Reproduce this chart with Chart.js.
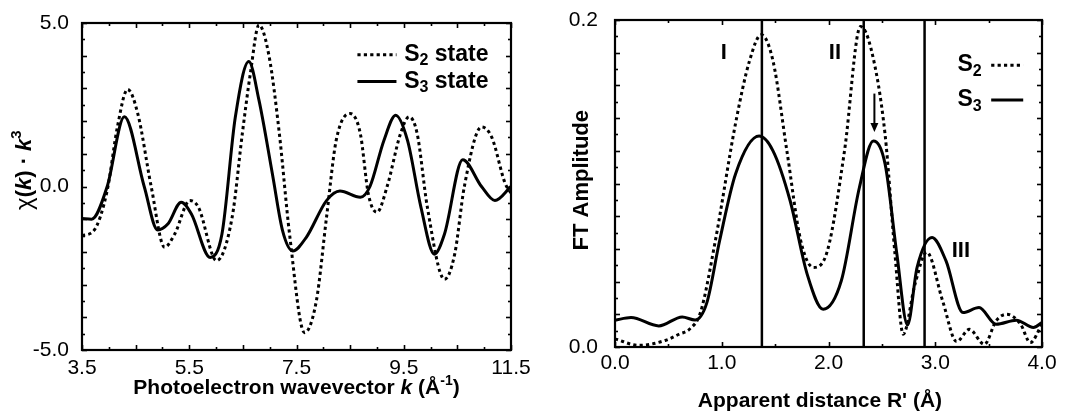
<!DOCTYPE html>
<html><head><meta charset="utf-8">
<script src="https://cdn.jsdelivr.net/npm/chart.js@4/dist/chart.umd.min.js"></script>
<style>
html,body{margin:0;padding:0;background:#fff;width:1065px;height:411px;overflow:hidden}
#wrapL{position:absolute;left:0;top:0;width:530px;height:411px}
#wrapR{position:absolute;left:530px;top:0;width:535px;height:411px}
</style></head><body>
<div id="wrapL"><canvas id="cL" width="530" height="411"></canvas></div>
<div id="wrapR"><canvas id="cR" width="535" height="411"></canvas></div>
<script>
// ===== DATA (left panel: EXAFS chi(k)*k^3) =====
const kS2 = [3.5, 3.72, 3.97, 4.16, 4.35, 4.54, 4.79, 5.04, 5.23, 5.51, 5.67, 6.01, 6.30, 6.49, 6.64, 6.80, 6.99, 7.18, 7.37, 7.65, 7.87, 8.06, 8.24, 8.50, 8.69, 8.84, 9.00, 9.19, 9.44, 9.60, 9.75, 9.94, 10.26, 10.45, 10.63, 10.95, 11.14, 11.39, 11.5];
const chiS2 = [-1.5, -1.35, -0.12, 1.82, 2.97, 2.23, 0.0, -1.86, -1.45, -0.43, -0.63, -2.27, -0.94, 1.62, 3.46, 4.94, 3.97, 1.62, -1.45, -4.47, -3.5, -0.94, 1.41, 2.23, 1.62, -0.23, -0.79, 0.0, 1.62, 2.13, 1.62, -0.63, -2.84, -2.07, 0.0, 1.82, 1.51, 0.1, -0.2];
const kS3 = [3.5, 3.68, 3.97, 4.29, 4.66, 4.91, 5.10, 5.35, 5.54, 5.89, 6.11, 6.36, 6.61, 6.80, 7.05, 7.24, 7.43, 7.68, 8.06, 8.31, 8.69, 8.87, 9.13, 9.35, 9.57, 9.82, 10.07, 10.26, 10.60, 10.95, 11.2, 11.5];
const chiS3 = [-0.98, -1.0, 0.0, 2.13, 0.0, -1.33, -1.15, -0.48, -0.84, -2.17, -1.45, 2.13, 3.82, 2.64, 0.39, -1.35, -1.97, -1.56, -0.43, -0.14, -0.33, 0.0, 1.41, 2.18, 1.41, -0.63, -2.07, -1.45, 0.82, 0.0, -0.43, 0.0];
const leftXTicks = [3.5, 5.5, 7.5, 9.5, 11.5];
const leftYTicks = [-5.0, 0.0, 5.0];
const leftLegend = [['S', '2', ' state'], ['S', '3', ' state']];

// ===== DATA (right panel: FT amplitude) =====
const rS2 = [0, 0.22, 0.47, 0.6, 0.7, 0.8, 0.94, 1.13, 1.26, 1.37, 1.48, 1.61, 1.74, 1.86, 1.99, 2.15, 2.30, 2.40, 2.53, 2.62, 2.70, 2.81, 2.92, 3.07, 3.20, 3.32, 3.46, 3.57, 3.67, 3.80, 3.89, 4.0];
const ftS2 = [0.005, 0.001, 0.004, 0.0078, 0.011, 0.021, 0.065, 0.137, 0.175, 0.191, 0.175, 0.120, 0.065, 0.0487, 0.0589, 0.120, 0.196, 0.182, 0.130, 0.0589, 0.0078, 0.0384, 0.058, 0.028, 0.0033, 0.0108, 0.0016, 0.016, 0.020, 0.0139, 0.0027, 0.014];
const rS3 = [0, 0.15, 0.41, 0.63, 0.75, 0.86, 0.98, 1.13, 1.35, 1.48, 1.64, 1.80, 1.95, 2.12, 2.29, 2.42, 2.53, 2.64, 2.74, 2.83, 2.97, 3.10, 3.26, 3.41, 3.57, 3.76, 3.92, 4.0];
const ftS3 = [0.0164, 0.018, 0.0129, 0.0184, 0.0165, 0.027, 0.065, 0.106, 0.129, 0.120, 0.0896, 0.0446, 0.0231, 0.0405, 0.0977, 0.126, 0.112, 0.057, 0.0135, 0.0487, 0.067, 0.0528, 0.0211, 0.0241, 0.0139, 0.0164, 0.0119, 0.015];
const rightXTicks = [0.0, 1.0, 2.0, 3.0, 4.0];
const rightYTicks = [0.0, 0.2];
const refLinesR = [1.376, 2.33, 2.90];
const peakLabels = ['I', 'II', 'III'];
const peakLabelX = [1.02, 2.06, 3.24];
const peakLabelY = [0.18, 0.18, 0.059];
const arrowX = 2.43, arrowTop = 0.155, arrowTip = 0.1315;
const rightLegend = [['S', '2', ''], ['S', '3', '']];

// ===== helpers =====
const FAM = '"Liberation Sans", Arial, Helvetica, sans-serif';
const B = (s) => 'bold ' + s + 'px ' + FAM;
const BI = (s) => 'italic bold ' + s + 'px ' + FAM;
const R = (s) => s + 'px ' + FAM;

function drawRich(ctx, segs, x, y, align, rotate) {
  ctx.save();
  ctx.translate(x, y);
  if (rotate) ctx.rotate(-Math.PI / 2);
  let total = 0;
  segs.forEach(s => { ctx.font = s.f; s.w = ctx.measureText(s.t).width; total += s.w; });
  let cx = align === 'center' ? -total / 2 : 0;
  ctx.textBaseline = 'middle'; ctx.textAlign = 'left'; ctx.fillStyle = '#000';
  segs.forEach(s => { ctx.font = s.f; ctx.fillText(s.t, cx, s.dy || 0); cx += s.w; });
  ctx.restore();
  return total;
}

function xy(xs, ys) { return xs.map((v, i) => ({ x: v, y: ys[i] })); }

const dotted = [3.2, 3.2];

function frameTicks(ctx, chart, cfg) {
  const a = chart.chartArea, xs = chart.scales.x, ys = chart.scales.y;
  ctx.save();
  ctx.strokeStyle = '#000';
  ctx.lineWidth = 1.6;
  const eps = 1e-9;
  for (let v = xs.min; v <= xs.max + eps; v += cfg.xMinor) {
    const px = Math.round(xs.getPixelForValue(v)) + 0.5;
    const q = (v - cfg.xMajorBase) / cfg.xMajor;
    const L = Math.abs(q - Math.round(q)) < 1e-6 ? 5 : 3;
    ctx.beginPath(); ctx.moveTo(px, a.bottom); ctx.lineTo(px, a.bottom - L); ctx.stroke();
    ctx.beginPath(); ctx.moveTo(px, a.top); ctx.lineTo(px, a.top + L); ctx.stroke();
  }
  for (let v = ys.min; v <= ys.max + eps; v += cfg.yMinor) {
    const py = Math.round(ys.getPixelForValue(v)) + 0.5;
    const q = v / cfg.yMajor;
    const L = Math.abs(q - Math.round(q)) < 1e-6 ? 5 : 3;
    ctx.beginPath(); ctx.moveTo(a.left, py); ctx.lineTo(a.left + L, py); ctx.stroke();
    ctx.beginPath(); ctx.moveTo(a.right, py); ctx.lineTo(a.right - L, py); ctx.stroke();
  }
  ctx.lineWidth = 2.2;
  ctx.strokeRect(a.left, a.top, a.right - a.left, a.bottom - a.top);
  ctx.restore();
}

function legendRow(ctx, parts, x, y) {
  return drawRich(ctx, [
    { t: parts[0], f: B(23) },
    { t: parts[1], f: B(16), dy: 6 },
    { t: parts[2], f: B(23) }
  ], x, y, 'left', false);
}

function sampleLine(ctx, x1, x2, y, dash) {
  ctx.save();
  ctx.strokeStyle = '#000'; ctx.lineWidth = 3;
  ctx.setLineDash(dash || []);
  ctx.beginPath(); ctx.moveTo(x1, y); ctx.lineTo(x2, y); ctx.stroke();
  ctx.restore();
}

function baseOptions(cfg) {
  return {
    responsive: false, animation: false, devicePixelRatio: 1,
    layout: { padding: cfg.padding },
    plugins: { legend: { display: false }, tooltip: { enabled: false }, title: { display: false } },
    elements: { point: { radius: 0 } },
    scales: {
      x: {
        type: 'linear', min: cfg.xmin, max: cfg.xmax,
        grid: { display: false, drawTicks: false }, border: { display: false },
        afterBuildTicks: s => { s.ticks = cfg.xTicks.map(v => ({ value: v })); },
        afterFit: s => { s.height = cfg.xH; s.paddingLeft = 0; s.paddingRight = 0; s.paddingTop = 0; s.paddingBottom = 0; },
        ticks: { padding: cfg.xPad, maxRotation: 0, autoSkip: false, color: '#000', font: { family: FAM, size: 21 }, callback: v => Number(v).toFixed(1) }
      },
      y: {
        type: 'linear', min: cfg.ymin, max: cfg.ymax,
        grid: { display: false, drawTicks: false }, border: { display: false },
        afterBuildTicks: s => { s.ticks = cfg.yTicks.map(v => ({ value: v })); },
        afterFit: s => { s.width = cfg.yW; s.paddingLeft = 0; s.paddingRight = 0; s.paddingTop = 0; s.paddingBottom = 0; },
        ticks: { padding: cfg.yPad, autoSkip: false, color: '#000', font: { family: FAM, size: 21 }, callback: v => Number(v).toFixed(1) }
      }
    }
  };
}

// ===== LEFT CHART =====
const leftDecor = {
  id: 'leftDecor',
  afterDatasetsDraw(chart) {
    const ctx = chart.ctx, a = chart.chartArea, W = a.right - a.left, H = a.bottom - a.top;
    frameTicks(ctx, chart, { xMinor: 0.5, xMajor: 1, xMajorBase: 3.5, yMinor: 0.5, yMajor: 1 });
    const rows = [0.097, 0.179];
    chart.data.datasets.forEach((d, i) => {
      const y = a.top + rows[i] * H;
      sampleLine(ctx, a.left + 0.642 * W, a.left + 0.733 * W, y, d.borderDash);
      legendRow(ctx, leftLegend[i], a.left + 0.751 * W, y);
    });
    drawRich(ctx, [
      { t: 'Photoelectron wavevector ', f: B(21) },
      { t: 'k', f: BI(21) },
      { t: ' (Å', f: B(21) },
      { t: '-1', f: B(14), dy: -7 },
      { t: ')', f: B(21) }
    ], (a.left + a.right) / 2, a.bottom + 38, 'center', false);
    drawRich(ctx, [
      { t: 'χ', f: R(24) },
      { t: '(', f: B(22) },
      { t: 'k', f: BI(22) },
      { t: ') · ', f: B(22) },
      { t: 'k', f: BI(22) },
      { t: '3', f: B(15), dy: -8 }
    ], a.left - 57, a.top + 0.45 * H, 'center', true);
  }
};

new Chart(document.getElementById('cL'), {
  type: 'line',
  data: {
    datasets: [
      { label: 'S2 state', data: xy(kS2, chiS2), borderColor: '#000', borderWidth: 3, borderDash: dotted, cubicInterpolationMode: 'monotone', fill: false },
      { label: 'S3 state', data: xy(kS3, chiS3), borderColor: '#000', borderWidth: 3, cubicInterpolationMode: 'monotone', fill: false }
    ]
  },
  options: baseOptions({ padding: { top: 23, right: 19, left: 0, bottom: 0 }, xmin: 3.5, xmax: 11.5, ymin: -5, ymax: 5, xTicks: leftXTicks, yTicks: leftYTicks, xH: 61, yW: 82, xPad: 6, yPad: 13 }),
  plugins: [leftDecor]
});

// ===== RIGHT CHART =====
const rightDecor = {
  id: 'rightDecor',
  beforeDatasetsDraw(chart) {
    const ctx = chart.ctx, a = chart.chartArea, xs = chart.scales.x;
    ctx.save(); ctx.strokeStyle = '#000'; ctx.lineWidth = 2.5;
    refLinesR.forEach(v => {
      const px = xs.getPixelForValue(v);
      ctx.beginPath(); ctx.moveTo(px, a.top); ctx.lineTo(px, a.bottom); ctx.stroke();
    });
    ctx.restore();
  },
  afterDatasetsDraw(chart) {
    const ctx = chart.ctx, a = chart.chartArea, W = a.right - a.left, H = a.bottom - a.top;
    const xs = chart.scales.x, ys = chart.scales.y;
    frameTicks(ctx, chart, { xMinor: 0.5, xMajor: 1, xMajorBase: 0, yMinor: 0.01, yMajor: 0.02 });
    ctx.save(); ctx.fillStyle = '#000'; ctx.font = B(22); ctx.textAlign = 'center'; ctx.textBaseline = 'middle';
    peakLabels.forEach((t, i) => ctx.fillText(t, xs.getPixelForValue(peakLabelX[i]), ys.getPixelForValue(peakLabelY[i])));
    const ax = xs.getPixelForValue(arrowX), y1 = ys.getPixelForValue(arrowTop), y2 = ys.getPixelForValue(arrowTip);
    ctx.strokeStyle = '#000'; ctx.lineWidth = 2;
    ctx.beginPath(); ctx.moveTo(ax, y1); ctx.lineTo(ax, y2 - 7); ctx.stroke();
    ctx.beginPath(); ctx.moveTo(ax - 4, y2 - 9); ctx.lineTo(ax + 4, y2 - 9); ctx.lineTo(ax, y2); ctx.closePath(); ctx.fill();
    ctx.restore();
    const rows = [0.138, 0.245];
    chart.data.datasets.forEach((d, i) => {
      const y = a.top + rows[i] * H;
      legendRow(ctx, rightLegend[i], a.left + 0.802 * W, y);
      sampleLine(ctx, a.left + 0.881 * W, a.left + 0.956 * W, y, d.borderDash);
    });
    drawRich(ctx, [{ t: "Apparent distance R' (Å)", f: B(21) }], a.left + 0.48 * W, a.bottom + 54, 'center', false);
    drawRich(ctx, [{ t: 'FT Amplitude', f: B(22) }], a.left - 33, a.top + 0.49 * H, 'center', true);
  }
};

new Chart(document.getElementById('cR'), {
  type: 'line',
  data: {
    datasets: [
      { label: 'S2', data: xy(rS2, ftS2), borderColor: '#000', borderWidth: 3, borderDash: dotted, cubicInterpolationMode: 'monotone', fill: false },
      { label: 'S3', data: xy(rS3, ftS3), borderColor: '#000', borderWidth: 3, cubicInterpolationMode: 'monotone', fill: false }
    ]
  },
  options: baseOptions({ padding: { top: 20, right: 23, left: 0, bottom: 0 }, xmin: 0, xmax: 4, ymin: 0, ymax: 0.2, xTicks: rightXTicks, yTicks: rightYTicks, xH: 64, yW: 85, xPad: 4, yPad: 17 }),
  plugins: [rightDecor]
});
</script>
</body></html>
